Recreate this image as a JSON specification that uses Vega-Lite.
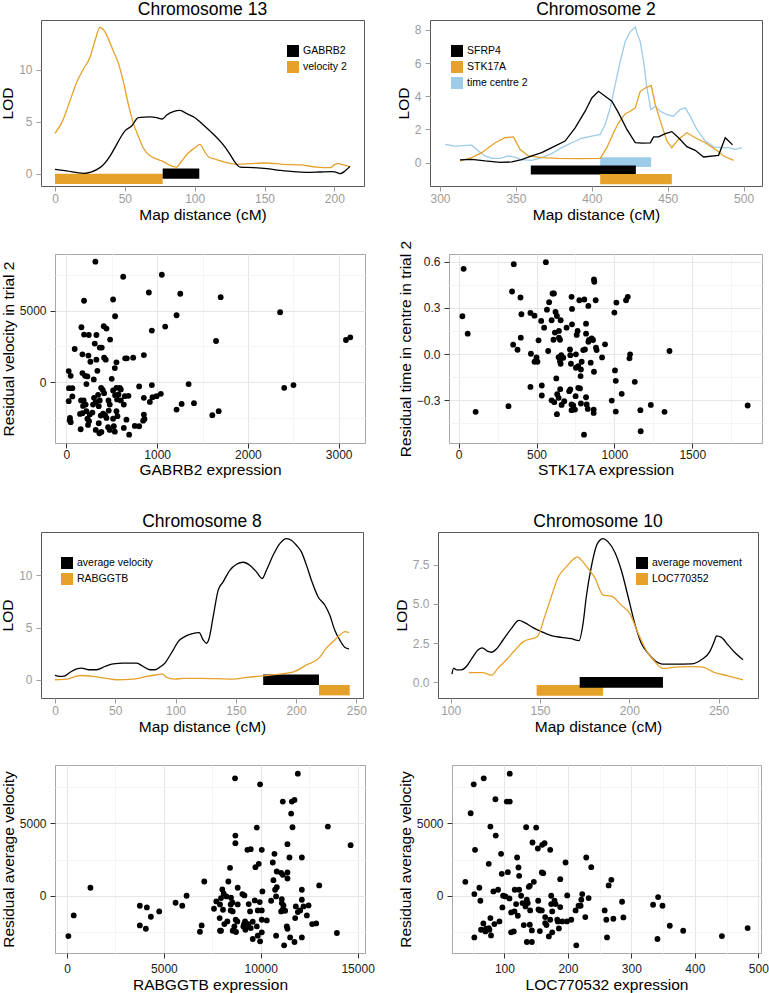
{
"$schema": "https://vega.github.io/schema/vega-lite/v6.json",
"background": "white",
"padding": {"left": 0, "top": 0, "right": 4, "bottom": 0},
"config": {
  "font": "Liberation Sans",
  "title": {"fontSize": 17.5, "fontWeight": "normal", "color": "black", "offset": 2},
  "axis": {"labelFontSize": 12, "titleFontSize": 15.5, "titleFontWeight": "normal", "titleColor": "black", "tickSize": 5, "domain": false, "grid": false},
  "axisX": {"labelPadding": 2.5, "titlePadding": 3},
  "axisY": {"labelPadding": 4, "titlePadding": 3},
  "legend": {"orient": "none", "title": null, "symbolType": "square", "symbolSize": 144, "symbolStrokeWidth": 0, "labelFontSize": 10.5, "labelOffset": 4, "rowPadding": 4, "padding": 0, "labelColor": "black"}
},
"columns": 1,
"spacing": 34,
"align": "none",
"resolve": {"scale": {"fill": "independent", "stroke": "independent"}, "legend": {"fill": "independent", "stroke": "independent"}},
"concat": [
{"columns": 1, "spacing": 15, "align": "none",
 "resolve": {"scale": {"fill": "independent", "stroke": "independent"}, "legend": {"fill": "independent", "stroke": "independent"}},
 "concat": [
 {"hconcat": [
  {"width": 323, "height": 166, "title": {"text": "Chromosome 13"}, "view": {"stroke": "#595959", "strokeWidth": 1},
   "layer": [
    {"data": {"values": [
      {"position": 0, "position2": 77.1, "lod": -1, "lod2": 0, "trait": "velocity 2"},
      {"position": 77.1, "position2": 103.3, "lod": -0.5, "lod2": 0.5, "trait": "GABRB2"}]},
     "mark": {"type": "rect"},
     "encoding": {
      "x": {"field": "position", "type": "quantitative", "title": "Map distance (cM)", "scale": {"domain": [-10, 221.2], "nice": false, "zero": false}, "axis": {"values": [0, 50, 100, 150, 200], "labelColor": "#9C9C9C", "tickColor": "#9C9C9C"}},
      "x2": {"field": "position2"},
      "y": {"field": "lod", "type": "quantitative", "title": "LOD", "scale": {"domain": [-1.19, 14.82], "nice": false, "zero": false}, "axis": {"values": [0, 5, 10], "labelColor": "#9C9C9C", "tickColor": "#9C9C9C"}},
      "y2": {"field": "lod2"},
      "fill": {"field": "trait", "type": "nominal", "scale": {"domain": ["GABRB2", "velocity 2"], "range": ["#000000", "#E6A12A"]}, "legend": {"legendX": 246, "legendY": 25}}
     }},
    {"data": {"values": [
      {"position": 0, "lod": 3.89, "trait": "velocity 2"},{"position": 4.8, "lod": 4.9, "trait": "velocity 2"},{"position": 10.7, "lod": 7.0, "trait": "velocity 2"},{"position": 15.5, "lod": 8.8, "trait": "velocity 2"},{"position": 20.3, "lod": 10.06, "trait": "velocity 2"},{"position": 25, "lod": 11.2, "trait": "velocity 2"},{"position": 28.6, "lod": 12.8, "trait": "velocity 2"},{"position": 32.2, "lod": 14.1, "trait": "velocity 2"},{"position": 34.6, "lod": 13.9, "trait": "velocity 2"},{"position": 38.2, "lod": 13.0, "trait": "velocity 2"},{"position": 41.8, "lod": 11.8, "trait": "velocity 2"},{"position": 45.3, "lod": 10.7, "trait": "velocity 2"},{"position": 48.9, "lod": 8.9, "trait": "velocity 2"},{"position": 52.5, "lod": 6.7, "trait": "velocity 2"},{"position": 56, "lod": 4.9, "trait": "velocity 2"},{"position": 59.7, "lod": 3.6, "trait": "velocity 2"},{"position": 63.2, "lod": 2.5, "trait": "velocity 2"},{"position": 66.8, "lod": 1.86, "trait": "velocity 2"},{"position": 70.4, "lod": 1.54, "trait": "velocity 2"},{"position": 75.2, "lod": 1.29, "trait": "velocity 2"},{"position": 77.6, "lod": 1.16, "trait": "velocity 2"},{"position": 82.3, "lod": 0.8, "trait": "velocity 2"},{"position": 87.1, "lod": 0.64, "trait": "velocity 2"},{"position": 90.7, "lod": 1.22, "trait": "velocity 2"},{"position": 95.5, "lod": 2.0, "trait": "velocity 2"},{"position": 100.2, "lod": 2.5, "trait": "velocity 2"},{"position": 103.8, "lod": 2.83, "trait": "velocity 2"},{"position": 106.2, "lod": 2.35, "trait": "velocity 2"},{"position": 109.8, "lod": 1.64, "trait": "velocity 2"},{"position": 115.8, "lod": 1.35, "trait": "velocity 2"},{"position": 122.9, "lod": 1.06, "trait": "velocity 2"},{"position": 130, "lod": 0.9, "trait": "velocity 2"},{"position": 139.6, "lod": 0.96, "trait": "velocity 2"},{"position": 151.5, "lod": 1.03, "trait": "velocity 2"},{"position": 163.5, "lod": 0.9, "trait": "velocity 2"},{"position": 175.4, "lod": 0.84, "trait": "velocity 2"},{"position": 187.4, "lod": 0.64, "trait": "velocity 2"},{"position": 196.9, "lod": 0.58, "trait": "velocity 2"},{"position": 200.5, "lod": 0.9, "trait": "velocity 2"},{"position": 202.9, "lod": 0.96, "trait": "velocity 2"},{"position": 206.4, "lod": 0.84, "trait": "velocity 2"},{"position": 211.2, "lod": 0.68, "trait": "velocity 2"},
      {"position": 0, "lod": 0.42, "trait": "GABRB2"},{"position": 8.4, "lod": 0.26, "trait": "GABRB2"},{"position": 20.3, "lod": 0.03, "trait": "GABRB2"},{"position": 32.2, "lod": 0.58, "trait": "GABRB2"},{"position": 39.4, "lod": 1.7, "trait": "GABRB2"},{"position": 44.2, "lod": 2.83, "trait": "GABRB2"},{"position": 50.1, "lod": 4.12, "trait": "GABRB2"},{"position": 54.9, "lod": 4.6, "trait": "GABRB2"},{"position": 59.7, "lod": 5.4, "trait": "GABRB2"},{"position": 68, "lod": 5.47, "trait": "GABRB2"},{"position": 72.8, "lod": 5.4, "trait": "GABRB2"},{"position": 76.8, "lod": 5.27, "trait": "GABRB2"},{"position": 80, "lod": 5.66, "trait": "GABRB2"},{"position": 84.7, "lod": 5.98, "trait": "GABRB2"},{"position": 89.5, "lod": 6.1, "trait": "GABRB2"},{"position": 94.3, "lod": 5.79, "trait": "GABRB2"},{"position": 100.2, "lod": 5.4, "trait": "GABRB2"},{"position": 106.2, "lod": 4.7, "trait": "GABRB2"},{"position": 113.4, "lod": 3.8, "trait": "GABRB2"},{"position": 120.5, "lod": 2.77, "trait": "GABRB2"},{"position": 125.3, "lod": 1.86, "trait": "GABRB2"},{"position": 128.9, "lod": 1.09, "trait": "GABRB2"},{"position": 132.5, "lod": 0.64, "trait": "GABRB2"},{"position": 142, "lod": 0.58, "trait": "GABRB2"},{"position": 151.5, "lod": 0.48, "trait": "GABRB2"},{"position": 161, "lod": 0.32, "trait": "GABRB2"},{"position": 170.6, "lod": 0.19, "trait": "GABRB2"},{"position": 180.2, "lod": 0.13, "trait": "GABRB2"},{"position": 189.7, "lod": 0.16, "trait": "GABRB2"},{"position": 198, "lod": 0.19, "trait": "GABRB2"},{"position": 202.9, "lod": 0.06, "trait": "GABRB2"},{"position": 204.1, "lod": 0.0, "trait": "GABRB2"},{"position": 207.6, "lod": 0.26, "trait": "GABRB2"},{"position": 211.2, "lod": 0.7, "trait": "GABRB2"}]},
     "mark": {"type": "line", "interpolate": "monotone", "strokeWidth": 1.3},
     "encoding": {
      "x": {"field": "position", "type": "quantitative", "title": "Map distance (cM)"},
      "y": {"field": "lod", "type": "quantitative", "title": "LOD"},
      "stroke": {"field": "trait", "type": "nominal", "scale": {"domain": ["GABRB2", "velocity 2"], "range": ["#000000", "#E6A12A"]}, "legend": null}
     }}
   ]},
  {"width": 332, "height": 166, "title": {"text": "Chromosome 2"}, "view": {"stroke": "#595959", "strokeWidth": 1},
   "layer": [
    {"data": {"values": [
      {"position": 405.5, "position2": 439.1, "lod": -0.27, "lod2": 0.32, "trait": "time centre 2"},
      {"position": 359.8, "position2": 429, "lod": -0.72, "lod2": -0.18, "trait": "SFRP4"},
      {"position": 405.5, "position2": 452.7, "lod": -1.3, "lod2": -0.68, "trait": "STK17A"}]},
     "mark": {"type": "rect"},
     "encoding": {
      "x": {"field": "position", "type": "quantitative", "title": "Map distance (cM)", "scale": {"domain": [293.4, 512.1], "nice": false, "zero": false}, "axis": {"values": [300, 350, 400, 450, 500], "labelColor": "#9C9C9C", "tickColor": "#9C9C9C"}},
      "x2": {"field": "position2"},
      "y": {"field": "lod", "type": "quantitative", "title": "LOD", "scale": {"domain": [-1.41, 8.6], "nice": false, "zero": false}, "axis": {"values": [0, 2, 4, 6, 8], "labelColor": "#9C9C9C", "tickColor": "#9C9C9C"}},
      "y2": {"field": "lod2"},
      "fill": {"field": "trait", "type": "nominal", "scale": {"domain": ["SFRP4", "STK17A", "time centre 2"], "range": ["#000000", "#E6A12A", "#9DCBEA"]}, "legend": {"legendX": 21, "legendY": 25}}
     }},
    {"data": {"values": [
      {"position": 303.3, "lod": 1.1, "trait": "time centre 2"},{"position": 309.9, "lod": 1.0, "trait": "time centre 2"},{"position": 320.9, "lod": 1.05, "trait": "time centre 2"},{"position": 325.3, "lod": 0.7, "trait": "time centre 2"},{"position": 329.7, "lod": 0.4, "trait": "time centre 2"},{"position": 334.1, "lod": 0.26, "trait": "time centre 2"},{"position": 339.6, "lod": 0.26, "trait": "time centre 2"},{"position": 345, "lod": 0.4, "trait": "time centre 2"},{"position": 348.4, "lod": 0.34, "trait": "time centre 2"},{"position": 353.8, "lod": 0.18, "trait": "time centre 2"},{"position": 360.4, "lod": 0.14, "trait": "time centre 2"},{"position": 367, "lod": 0.3, "trait": "time centre 2"},{"position": 373.6, "lod": 0.54, "trait": "time centre 2"},{"position": 380.2, "lod": 0.9, "trait": "time centre 2"},{"position": 386.8, "lod": 1.2, "trait": "time centre 2"},{"position": 393.4, "lod": 1.47, "trait": "time centre 2"},{"position": 400, "lod": 1.6, "trait": "time centre 2"},{"position": 405.5, "lod": 1.7, "trait": "time centre 2"},{"position": 408.8, "lod": 2.3, "trait": "time centre 2"},{"position": 412.1, "lod": 3.3, "trait": "time centre 2"},{"position": 415.4, "lod": 4.7, "trait": "time centre 2"},{"position": 418.7, "lod": 6.1, "trait": "time centre 2"},{"position": 422, "lod": 7.3, "trait": "time centre 2"},{"position": 425.3, "lod": 7.9, "trait": "time centre 2"},{"position": 428.6, "lod": 8.18, "trait": "time centre 2"},{"position": 429.7, "lod": 7.84, "trait": "time centre 2"},{"position": 431.9, "lod": 7.3, "trait": "time centre 2"},{"position": 434.1, "lod": 6.1, "trait": "time centre 2"},{"position": 436.3, "lod": 4.5, "trait": "time centre 2"},{"position": 438.9, "lod": 3.2, "trait": "time centre 2"},{"position": 441.8, "lod": 3.4, "trait": "time centre 2"},{"position": 445.1, "lod": 3.1, "trait": "time centre 2"},{"position": 449.5, "lod": 2.9, "trait": "time centre 2"},{"position": 453.8, "lod": 2.8, "trait": "time centre 2"},{"position": 458.2, "lod": 3.2, "trait": "time centre 2"},{"position": 461.5, "lod": 3.3, "trait": "time centre 2"},{"position": 464.8, "lod": 2.8, "trait": "time centre 2"},{"position": 469.2, "lod": 2.0, "trait": "time centre 2"},{"position": 474.7, "lod": 1.3, "trait": "time centre 2"},{"position": 480.2, "lod": 0.95, "trait": "time centre 2"},{"position": 485.7, "lod": 0.9, "trait": "time centre 2"},{"position": 490.1, "lod": 0.9, "trait": "time centre 2"},{"position": 494.5, "lod": 0.8, "trait": "time centre 2"},{"position": 498.9, "lod": 0.9, "trait": "time centre 2"},
      {"position": 313.2, "lod": 0.1, "trait": "STK17A"},{"position": 320.9, "lod": 0.3, "trait": "STK17A"},{"position": 327.5, "lod": 0.6, "trait": "STK17A"},{"position": 336.3, "lod": 1.2, "trait": "STK17A"},{"position": 342.9, "lod": 1.5, "trait": "STK17A"},{"position": 348.4, "lod": 1.55, "trait": "STK17A"},{"position": 352.7, "lod": 0.8, "trait": "STK17A"},{"position": 358.2, "lod": 0.4, "trait": "STK17A"},{"position": 367, "lod": 0.3, "trait": "STK17A"},{"position": 378, "lod": 0.26, "trait": "STK17A"},{"position": 391.2, "lod": 0.24, "trait": "STK17A"},{"position": 405.5, "lod": 0.26, "trait": "STK17A"},{"position": 409.9, "lod": 0.9, "trait": "STK17A"},{"position": 414.3, "lod": 1.8, "trait": "STK17A"},{"position": 417.6, "lod": 2.4, "trait": "STK17A"},{"position": 422, "lod": 2.95, "trait": "STK17A"},{"position": 425.3, "lod": 3.1, "trait": "STK17A"},{"position": 428.6, "lod": 3.3, "trait": "STK17A"},{"position": 431.9, "lod": 4.3, "trait": "STK17A"},{"position": 435.2, "lod": 4.5, "trait": "STK17A"},{"position": 439.1, "lod": 4.65, "trait": "STK17A"},{"position": 441.8, "lod": 3.5, "trait": "STK17A"},{"position": 446.2, "lod": 2.2, "trait": "STK17A"},{"position": 449.5, "lod": 1.3, "trait": "STK17A"},{"position": 452.7, "lod": 0.9, "trait": "STK17A"},{"position": 457.1, "lod": 1.4, "trait": "STK17A"},{"position": 462.6, "lod": 1.8, "trait": "STK17A"},{"position": 468.1, "lod": 1.5, "trait": "STK17A"},{"position": 474.7, "lod": 1.2, "trait": "STK17A"},{"position": 481.3, "lod": 0.8, "trait": "STK17A"},{"position": 486.8, "lod": 0.4, "trait": "STK17A"},{"position": 493.4, "lod": 0.14, "trait": "STK17A"},
      {"position": 313.2, "lod": 0.16, "trait": "SFRP4"},{"position": 320.9, "lod": 0.2, "trait": "SFRP4"},{"position": 329.7, "lod": 0.1, "trait": "SFRP4"},{"position": 339.6, "lod": 0.02, "trait": "SFRP4"},{"position": 347.3, "lod": 0.04, "trait": "SFRP4"},{"position": 353.8, "lod": 0.18, "trait": "SFRP4"},{"position": 360.4, "lod": 0.4, "trait": "SFRP4"},{"position": 367, "lod": 0.6, "trait": "SFRP4"},{"position": 373.6, "lod": 0.9, "trait": "SFRP4"},{"position": 382.4, "lod": 1.3, "trait": "SFRP4"},{"position": 389, "lod": 2.1, "trait": "SFRP4"},{"position": 395.6, "lod": 3.1, "trait": "SFRP4"},{"position": 400, "lod": 3.9, "trait": "SFRP4"},{"position": 404.4, "lod": 4.3, "trait": "SFRP4"},{"position": 408.8, "lod": 4.0, "trait": "SFRP4"},{"position": 413.2, "lod": 3.7, "trait": "SFRP4"},{"position": 417.6, "lod": 3.0, "trait": "SFRP4"},{"position": 423.1, "lod": 2.0, "trait": "SFRP4"},{"position": 428.6, "lod": 1.2, "trait": "SFRP4"},{"position": 433, "lod": 1.17, "trait": "SFRP4"},{"position": 438.5, "lod": 1.19, "trait": "SFRP4"},{"position": 440.7, "lod": 1.55, "trait": "SFRP4"},{"position": 444, "lod": 1.55, "trait": "SFRP4"},{"position": 448.4, "lod": 1.75, "trait": "SFRP4"},{"position": 452.7, "lod": 1.87, "trait": "SFRP4"},{"position": 457.1, "lod": 1.5, "trait": "SFRP4"},{"position": 462.6, "lod": 0.96, "trait": "SFRP4"},{"position": 468.1, "lod": 0.74, "trait": "SFRP4"},{"position": 473.6, "lod": 0.34, "trait": "SFRP4"},{"position": 483.5, "lod": 0.44, "trait": "SFRP4"},{"position": 487.9, "lod": 1.5, "trait": "SFRP4"},{"position": 490.1, "lod": 1.3, "trait": "SFRP4"},{"position": 492.7, "lod": 1.07, "trait": "SFRP4"}]},
     "mark": {"type": "line", "strokeWidth": 1.3},
     "encoding": {
      "x": {"field": "position", "type": "quantitative", "title": "Map distance (cM)"},
      "y": {"field": "lod", "type": "quantitative", "title": "LOD"},
      "stroke": {"field": "trait", "type": "nominal", "scale": {"domain": ["SFRP4", "STK17A", "time centre 2"], "range": ["#000000", "#E6A12A", "#9DCBEA"]}, "legend": null}
     }}
   ]}
 ], "spacing": 30,
 "resolve": {"scale": {"fill": "independent", "stroke": "independent"}, "legend": {"fill": "independent", "stroke": "independent"}}},
 {"hconcat": [
  {"hconcat": [
  {"width": 1, "height": 1, "data": {"values": []}, "mark": "point", "view": {"stroke": null}},
  {"width": 310, "height": 189, "view": {"stroke": "#A8A8A8", "strokeWidth": 1},
   "data": {"values": [
    {"expr":320,"resid":8410},{"expr":626,"resid":7360},{"expr":1052,"resid":7500},{"expr":909,"resid":6260},{"expr":1255,"resid":6170},{"expr":1700,"resid":5930},{"expr":195,"resid":5680},{"expr":515,"resid":5770},{"expr":2355,"resid":4880},{"expr":537,"resid":4600},{"expr":1214,"resid":4670},{"expr":166,"resid":3830},{"expr":412,"resid":3900},{"expr":442,"resid":3740},{"expr":942,"resid":3600},{"expr":1089,"resid":3880},{"expr":195,"resid":3320},{"expr":247,"resid":3290},{"expr":331,"resid":3290},{"expr":482,"resid":2970},{"expr":1649,"resid":2870},{"expr":3080,"resid":2940},{"expr":3128,"resid":3130},{"expr":313,"resid":2690},{"expr":368,"resid":2410},{"expr":390,"resid":2410},{"expr":92,"resid":2310},{"expr":177,"resid":1940},{"expr":243,"resid":1850},{"expr":331,"resid":1570},{"expr":265,"resid":1420},{"expr":416,"resid":1710},{"expr":434,"resid":1570},{"expr":648,"resid":1660},{"expr":666,"resid":1660},{"expr":736,"resid":1710},{"expr":854,"resid":1890},{"expr":552,"resid":1380},{"expr":534,"resid":980},{"expr":342,"resid":790},{"expr":26,"resid":770},{"expr":48,"resid":440},{"expr":177,"resid":630},{"expr":206,"resid":440},{"expr":232,"resid":400},{"expr":302,"resid":190},{"expr":500,"resid":230},{"expr":221,"resid":-140},{"expr":802,"resid":-300},{"expr":942,"resid":-210},{"expr":1347,"resid":-140},{"expr":2502,"resid":-210},{"expr":2400,"resid":-400},{"expr":29,"resid":-420},{"expr":66,"resid":-420},{"expr":383,"resid":-400},{"expr":401,"resid":-540},{"expr":589,"resid":-400},{"expr":515,"resid":-580},{"expr":66,"resid":-1000},{"expr":26,"resid":-1330},{"expr":162,"resid":-1280},{"expr":191,"resid":-1280},{"expr":213,"resid":-1570},{"expr":184,"resid":-1660},{"expr":305,"resid":-1100},{"expr":324,"resid":-1400},{"expr":357,"resid":-1680},{"expr":350,"resid":-890},{"expr":416,"resid":-770},{"expr":537,"resid":-910},{"expr":559,"resid":-1210},{"expr":574,"resid":-860},{"expr":684,"resid":-960},{"expr":854,"resid":-1100},{"expr":949,"resid":-1050},{"expr":920,"resid":-1380},{"expr":1041,"resid":-820},{"expr":994,"resid":-980},{"expr":854,"resid":-2270},{"expr":861,"resid":-2570},{"expr":802,"resid":-3080},{"expr":1214,"resid":-1920},{"expr":1270,"resid":-1520},{"expr":1406,"resid":-1470},{"expr":1608,"resid":-2310},{"expr":1678,"resid":-2030},{"expr":221,"resid":-2030},{"expr":177,"resid":-2170},{"expr":151,"resid":-2220},{"expr":40,"resid":-2500},{"expr":37,"resid":-2660},{"expr":48,"resid":-2800},{"expr":232,"resid":-2550},{"expr":250,"resid":-2730},{"expr":239,"resid":-2990},{"expr":287,"resid":-2130},{"expr":405,"resid":-2200},{"expr":379,"resid":-2340},{"expr":427,"resid":-2310},{"expr":357,"resid":-2870},{"expr":324,"resid":-3340},{"expr":386,"resid":-3480},{"expr":364,"resid":-3570},{"expr":158,"resid":-3290},{"expr":442,"resid":-2500},{"expr":467,"resid":-1990},{"expr":478,"resid":-3340},{"expr":534,"resid":-3460},{"expr":523,"resid":-3080},{"expr":460,"resid":-3150},{"expr":552,"resid":-2030},{"expr":563,"resid":-2380},{"expr":515,"resid":-2550},{"expr":633,"resid":-3200},{"expr":692,"resid":-3670},{"expr":754,"resid":-3060},{"expr":662,"resid":-2620},{"expr":846,"resid":-2690},{"expr":644,"resid":-980},{"expr":600,"resid":-1280},{"expr":294,"resid":-1570},{"expr":464,"resid":-1280},{"expr":478,"resid":-1570},{"expr":633,"resid":-1570},{"expr":552,"resid":-400},{"expr":368,"resid":-1280},{"expr":258,"resid":-2270},{"expr":600,"resid":-510}]},
   "mark": {"type": "circle", "size": 34, "color": "black", "opacity": 1},
   "encoding": {
    "x": {"field": "expr", "type": "quantitative", "title": "GABRB2 expression", "scale": {"domain": [-125, 3290], "nice": false, "zero": false},
      "axis": {"values": [0, 500, 1000, 1500, 2000, 2500, 3000], "format": "d", "labelExpr": "datum.value % 1000 == 0 ? datum.label : ''", "grid": true, "gridColor": {"condition": {"test": "datum.value % 1000 != 0", "value": "#F4F4F4"}, "value": "#E6E6E6"}, "tickOpacity": {"condition": {"test": "datum.value % 1000 != 0", "value": 0}, "value": 1}, "labelColor": "#1A1A1A", "tickColor": "#333333", "labelPadding": 1, "titlePadding": 2}},
    "y": {"field": "resid", "type": "quantitative", "title": "Residual velocity in trial 2", "scale": {"domain": [-4252, 8947], "nice": false, "zero": false},
      "axis": {"values": [-2500, 0, 2500, 5000, 7500], "format": "d", "labelExpr": "datum.value % 5000 == 0 ? datum.label : ''", "grid": true, "gridColor": {"condition": {"test": "datum.value % 5000 != 0", "value": "#F4F4F4"}, "value": "#E6E6E6"}, "tickOpacity": {"condition": {"test": "datum.value % 5000 != 0", "value": 0}, "value": 1}, "labelColor": "#1A1A1A", "tickColor": "#333333"}}
   }}], "spacing": 13, "bounds": "flush"},
  {"width": 313, "height": 189, "view": {"stroke": "#A8A8A8", "strokeWidth": 1},
   "data": {"values": [
    {"expr":32,"resid":0.553},{"expr":354,"resid":0.583},{"expr":560,"resid":0.596},{"expr":24,"resid":0.245},{"expr":58,"resid":0.132},{"expr":109,"resid":-0.375},{"expr":320,"resid":-0.338},{"expr":343,"resid":0.406},{"expr":397,"resid":0.367},{"expr":403,"resid":0.258},{"expr":399,"resid":0.106},{"expr":350,"resid":0.061},{"expr":378,"resid":0.028},{"expr":461,"resid":-0.213},{"expr":461,"resid":0.267},{"expr":487,"resid":0.249},{"expr":464,"resid":0.002},{"expr":487,"resid":-0.05},{"expr":500,"resid":-0.022},{"expr":506,"resid":-0.05},{"expr":513,"resid":0.089},{"expr":530,"resid":0.215},{"expr":549,"resid":0.171},{"expr":567,"resid":0.288},{"expr":575,"resid":0.02},{"expr":534,"resid":-0.204},{"expr":534,"resid":-0.269},{"expr":581,"resid":0.336},{"expr":597,"resid":0.219},{"expr":603,"resid":0.393},{"expr":612,"resid":0.393},{"expr":622,"resid":0.273},{"expr":631,"resid":0.247},{"expr":618,"resid":0.139},{"expr":609,"resid":0.093},{"expr":644,"resid":0.15},{"expr":651,"resid":0.093},{"expr":655,"resid":0.219},{"expr":644,"resid":0.106},{"expr":627,"resid":-0.158},{"expr":633,"resid":-0.26},{"expr":642,"resid":-0.284},{"expr":631,"resid":-0.39},{"expr":597,"resid":-0.3},{"expr":614,"resid":-0.312},{"expr":652,"resid":-0.228},{"expr":642,"resid":-0.02},{"expr":651,"resid":-0.046},{"expr":655,"resid":-0.063},{"expr":659,"resid":-0.007},{"expr":672,"resid":-0.024},{"expr":661,"resid":-0.33},{"expr":678,"resid":-0.306},{"expr":693,"resid":0.171},{"expr":717,"resid":-0.007},{"expr":725,"resid":0.371},{"expr":728,"resid":0.293},{"expr":728,"resid":0.193},{"expr":715,"resid":0.03},{"expr":710,"resid":-0.241},{"expr":717,"resid":-0.23},{"expr":721,"resid":-0.063},{"expr":725,"resid":-0.327},{"expr":725,"resid":-0.364},{"expr":736,"resid":-0.334},{"expr":747,"resid":-0.36},{"expr":751,"resid":-0.273},{"expr":753,"resid":-0.002},{"expr":753,"resid":-0.089},{"expr":764,"resid":0.15},{"expr":758,"resid":0.124},{"expr":768,"resid":-0.219},{"expr":779,"resid":-0.223},{"expr":768,"resid":-0.078},{"expr":783,"resid":-0.143},{"expr":785,"resid":-0.1},{"expr":790,"resid":-0.05},{"expr":785,"resid":-0.321},{"expr":775,"resid":0.349},{"expr":807,"resid":0.354},{"expr":800,"resid":0.026},{"expr":811,"resid":0.03},{"expr":818,"resid":0.197},{"expr":818,"resid":0.132},{"expr":818,"resid":-0.28},{"expr":822,"resid":-0.327},{"expr":829,"resid":-0.356},{"expr":833,"resid":0.312},{"expr":833,"resid":0.08},{"expr":837,"resid":0.091},{"expr":848,"resid":-0.056},{"expr":854,"resid":0.102},{"expr":863,"resid":0.091},{"expr":869,"resid":-0.115},{"expr":867,"resid":-0.36},{"expr":867,"resid":-0.382},{"expr":869,"resid":0.484},{"expr":871,"resid":0.469},{"expr":880,"resid":0.349},{"expr":882,"resid":0.041},{"expr":886,"resid":0.026},{"expr":921,"resid":-0.022},{"expr":940,"resid":0.063},{"expr":805,"resid":-0.523},{"expr":983,"resid":-0.302},{"expr":1000,"resid":0.269},{"expr":1004,"resid":-0.106},{"expr":1009,"resid":-0.174},{"expr":1009,"resid":-0.373},{"expr":1013,"resid":0.334},{"expr":1047,"resid":-0.258},{"expr":1075,"resid":0.349},{"expr":1086,"resid":0.371},{"expr":1101,"resid":-0.002},{"expr":1097,"resid":-0.028},{"expr":1131,"resid":-0.18},{"expr":1167,"resid":-0.364},{"expr":1169,"resid":-0.501},{"expr":1234,"resid":-0.33},{"expr":1322,"resid":-0.375},{"expr":1354,"resid":0.02},{"expr":1856,"resid":-0.334}]},
   "mark": {"type": "circle", "size": 34, "color": "black", "opacity": 1},
   "encoding": {
    "x": {"field": "expr", "type": "quantitative", "title": "STK17A expression", "scale": {"domain": [-62, 1948], "nice": false, "zero": false},
      "axis": {"values": [0, 250, 500, 750, 1000, 1250, 1500, 1750], "format": "d", "labelExpr": "datum.value % 500 == 0 ? datum.label : ''", "grid": true, "gridColor": {"condition": {"test": "datum.value % 500 != 0", "value": "#F4F4F4"}, "value": "#E6E6E6"}, "tickOpacity": {"condition": {"test": "datum.value % 500 != 0", "value": 0}, "value": 1}, "labelColor": "#1A1A1A", "tickColor": "#333333", "labelPadding": 1, "titlePadding": 2}},
    "y": {"field": "resid", "type": "quantitative", "title": "Residual time in centre in trial 2", "scale": {"domain": [-0.577, 0.649], "nice": false, "zero": false},
      "axis": {"values": [-0.45, -0.3, -0.15, 0, 0.15, 0.3, 0.45, 0.6], "format": ".1f", "labelExpr": "round(datum.value*100) % 30 == 0 ? datum.label : ''", "grid": true, "gridColor": {"condition": {"test": "round(datum.value*100) % 30 != 0", "value": "#F4F4F4"}, "value": "#E6E6E6"}, "tickOpacity": {"condition": {"test": "round(datum.value*100) % 30 != 0", "value": 0}, "value": 1}, "labelColor": "#1A1A1A", "tickColor": "#333333"}}
   }}
 ], "spacing": 31}
]},
{"columns": 1, "spacing": 28, "align": "none",
 "resolve": {"scale": {"fill": "independent", "stroke": "independent"}, "legend": {"fill": "independent", "stroke": "independent"}},
 "concat": [
 {"hconcat": [
  {"width": 322, "height": 166, "title": {"text": "Chromosome 8"}, "view": {"stroke": "#595959", "strokeWidth": 1},
   "layer": [
    {"data": {"values": [
      {"position": 172.7, "position2": 219, "lod": -0.5, "lod2": 0.5, "trait": "average velocity"},
      {"position": 219, "position2": 244.5, "lod": -1.5, "lod2": -0.5, "trait": "RABGGTB"}]},
     "mark": {"type": "rect"},
     "encoding": {
      "x": {"field": "position", "type": "quantitative", "title": "Map distance (cM)", "scale": {"domain": [-11.6, 255.5], "nice": false, "zero": false}, "axis": {"values": [0, 50, 100, 150, 200, 250], "labelColor": "#9C9C9C", "tickColor": "#9C9C9C"}},
      "x2": {"field": "position2"},
      "y": {"field": "lod", "type": "quantitative", "title": "LOD", "scale": {"domain": [-1.75, 14.17], "nice": false, "zero": false}, "axis": {"values": [0, 5, 10], "labelColor": "#9C9C9C", "tickColor": "#9C9C9C"}},
      "y2": {"field": "lod2"},
      "fill": {"field": "trait", "type": "nominal", "scale": {"domain": ["average velocity", "RABGGTB"], "range": ["#000000", "#E6A12A"]}, "legend": {"legendX": 20, "legendY": 25}}
     }},
    {"data": {"values": [
      {"position": 0, "lod": 0.41, "trait": "average velocity"},{"position": 4.1, "lod": 0.32, "trait": "average velocity"},{"position": 8.3, "lod": 0.38, "trait": "average velocity"},{"position": 12.4, "lod": 0.7, "trait": "average velocity"},{"position": 18, "lod": 1.05, "trait": "average velocity"},{"position": 22.1, "lod": 1.11, "trait": "average velocity"},{"position": 27.6, "lod": 0.96, "trait": "average velocity"},{"position": 34.5, "lod": 0.96, "trait": "average velocity"},{"position": 41.4, "lod": 1.27, "trait": "average velocity"},{"position": 48.3, "lod": 1.53, "trait": "average velocity"},{"position": 56.6, "lod": 1.59, "trait": "average velocity"},{"position": 67.7, "lod": 1.59, "trait": "average velocity"},{"position": 73.2, "lod": 1.27, "trait": "average velocity"},{"position": 78.7, "lod": 0.96, "trait": "average velocity"},{"position": 82.9, "lod": 0.96, "trait": "average velocity"},{"position": 87, "lod": 1.21, "trait": "average velocity"},{"position": 91.2, "lod": 1.59, "trait": "average velocity"},{"position": 94.8, "lod": 2.23, "trait": "average velocity"},{"position": 98.1, "lod": 2.87, "trait": "average velocity"},{"position": 102.2, "lod": 3.66, "trait": "average velocity"},{"position": 107.7, "lod": 4.14, "trait": "average velocity"},{"position": 113.3, "lod": 4.39, "trait": "average velocity"},{"position": 119.6, "lod": 4.52, "trait": "average velocity"},{"position": 122.9, "lod": 3.82, "trait": "average velocity"},{"position": 125.7, "lod": 3.5, "trait": "average velocity"},{"position": 127.9, "lod": 3.98, "trait": "average velocity"},{"position": 131.2, "lod": 6.05, "trait": "average velocity"},{"position": 135.4, "lod": 8.6, "trait": "average velocity"},{"position": 139.5, "lod": 9.39, "trait": "average velocity"},{"position": 145, "lod": 10.5, "trait": "average velocity"},{"position": 150.6, "lod": 11.08, "trait": "average velocity"},{"position": 156.1, "lod": 11.27, "trait": "average velocity"},{"position": 161.6, "lod": 10.99, "trait": "average velocity"},{"position": 167.1, "lod": 10.35, "trait": "average velocity"},{"position": 171.8, "lod": 9.71, "trait": "average velocity"},{"position": 175.4, "lod": 10.5, "trait": "average velocity"},{"position": 180.9, "lod": 11.94, "trait": "average velocity"},{"position": 186.5, "lod": 13.06, "trait": "average velocity"},{"position": 192, "lod": 13.54, "trait": "average velocity"},{"position": 196.1, "lod": 13.38, "trait": "average velocity"},{"position": 200.3, "lod": 12.9, "trait": "average velocity"},{"position": 204.4, "lod": 12.26, "trait": "average velocity"},{"position": 208.6, "lod": 10.99, "trait": "average velocity"},{"position": 212.7, "lod": 9.55, "trait": "average velocity"},{"position": 218.2, "lod": 7.96, "trait": "average velocity"},{"position": 223.8, "lod": 7.17, "trait": "average velocity"},{"position": 227.9, "lod": 6.21, "trait": "average velocity"},{"position": 232, "lod": 4.78, "trait": "average velocity"},{"position": 236.2, "lod": 3.82, "trait": "average velocity"},{"position": 240.3, "lod": 3.12, "trait": "average velocity"},{"position": 243.9, "lod": 2.96, "trait": "average velocity"},
      {"position": 0, "lod": 0, "trait": "RABGGTB"},{"position": 9.7, "lod": 0.06, "trait": "RABGGTB"},{"position": 20.7, "lod": 0.41, "trait": "RABGGTB"},{"position": 31.8, "lod": 0.32, "trait": "RABGGTB"},{"position": 42.8, "lod": 0.13, "trait": "RABGGTB"},{"position": 51.1, "lod": 0, "trait": "RABGGTB"},{"position": 64.9, "lod": 0.06, "trait": "RABGGTB"},{"position": 76, "lod": 0.32, "trait": "RABGGTB"},{"position": 84.3, "lod": 0.48, "trait": "RABGGTB"},{"position": 89, "lod": 0.57, "trait": "RABGGTB"},{"position": 92.5, "lod": 0.22, "trait": "RABGGTB"},{"position": 99.4, "lod": 0.06, "trait": "RABGGTB"},{"position": 106.4, "lod": 0.13, "trait": "RABGGTB"},{"position": 120.2, "lod": 0.13, "trait": "RABGGTB"},{"position": 134, "lod": 0.1, "trait": "RABGGTB"},{"position": 147.8, "lod": 0.06, "trait": "RABGGTB"},{"position": 158.8, "lod": 0.22, "trait": "RABGGTB"},{"position": 172.7, "lod": 0.38, "trait": "RABGGTB"},{"position": 186.5, "lod": 0.54, "trait": "RABGGTB"},{"position": 198.9, "lod": 0.8, "trait": "RABGGTB"},{"position": 208.6, "lod": 1.43, "trait": "RABGGTB"},{"position": 219, "lod": 2.07, "trait": "RABGGTB"},{"position": 225.1, "lod": 3.03, "trait": "RABGGTB"},{"position": 230.7, "lod": 3.66, "trait": "RABGGTB"},{"position": 236.2, "lod": 4.27, "trait": "RABGGTB"},{"position": 240.3, "lod": 4.62, "trait": "RABGGTB"},{"position": 243.9, "lod": 4.52, "trait": "RABGGTB"}]},
     "mark": {"type": "line", "interpolate": "monotone", "strokeWidth": 1.3},
     "encoding": {
      "x": {"field": "position", "type": "quantitative", "title": "Map distance (cM)"},
      "y": {"field": "lod", "type": "quantitative", "title": "LOD"},
      "stroke": {"field": "trait", "type": "nominal", "scale": {"domain": ["average velocity", "RABGGTB"], "range": ["#000000", "#E6A12A"]}, "legend": null}
     }}
   ]},
  {"width": 320, "height": 166, "title": {"text": "Chromosome 10"}, "view": {"stroke": "#595959", "strokeWidth": 1},
   "layer": [
    {"data": {"values": [
      {"position": 148.1, "position2": 185.3, "lod": -0.85, "lod2": -0.17, "trait": "LOC770352"},
      {"position": 172.2, "position2": 218.8, "lod": -0.34, "lod2": 0.34, "trait": "average movement"}]},
     "mark": {"type": "rect"},
     "encoding": {
      "x": {"field": "position", "type": "quantitative", "title": "Map distance (cM)", "scale": {"domain": [92.9, 272], "nice": false, "zero": false}, "axis": {"values": [100, 150, 200, 250], "labelColor": "#9C9C9C", "tickColor": "#9C9C9C"}},
      "x2": {"field": "position2"},
      "y": {"field": "lod", "type": "quantitative", "title": "LOD", "scale": {"domain": [-0.99, 9.57], "nice": false, "zero": false}, "axis": {"values": [0, 2.5, 5, 7.5], "format": ".1f", "labelColor": "#9C9C9C", "tickColor": "#9C9C9C"}},
      "y2": {"field": "lod2"},
      "fill": {"field": "trait", "type": "nominal", "scale": {"domain": ["average movement", "LOC770352"], "range": ["#000000", "#E6A12A"]}, "legend": {"legendX": 198, "legendY": 25}}
     }},
    {"data": {"values": [
      {"position": 100.7, "lod": 0.53, "trait": "average movement"},{"position": 101.7, "lod": 0.91, "trait": "average movement"},{"position": 103.2, "lod": 0.8, "trait": "average movement"},{"position": 106, "lod": 0.8, "trait": "average movement"},{"position": 108.8, "lod": 1.01, "trait": "average movement"},{"position": 111.6, "lod": 1.48, "trait": "average movement"},{"position": 115.3, "lod": 2.07, "trait": "average movement"},{"position": 117.7, "lod": 2.2, "trait": "average movement"},{"position": 120.5, "lod": 1.99, "trait": "average movement"},{"position": 122.8, "lod": 1.92, "trait": "average movement"},{"position": 125.6, "lod": 2.13, "trait": "average movement"},{"position": 129.3, "lod": 2.7, "trait": "average movement"},{"position": 134, "lod": 3.44, "trait": "average movement"},{"position": 138.2, "lod": 3.95, "trait": "average movement"},{"position": 141.4, "lod": 3.8, "trait": "average movement"},{"position": 146.1, "lod": 3.49, "trait": "average movement"},{"position": 150.7, "lod": 3.23, "trait": "average movement"},{"position": 156.3, "lod": 2.98, "trait": "average movement"},{"position": 161.9, "lod": 2.87, "trait": "average movement"},{"position": 167.5, "lod": 2.79, "trait": "average movement"},{"position": 171.8, "lod": 2.66, "trait": "average movement"},{"position": 174.1, "lod": 3.76, "trait": "average movement"},{"position": 175.9, "lod": 5.45, "trait": "average movement"},{"position": 178.7, "lod": 7.35, "trait": "average movement"},{"position": 182.1, "lod": 8.83, "trait": "average movement"},{"position": 185.3, "lod": 9.15, "trait": "average movement"},{"position": 188.1, "lod": 8.94, "trait": "average movement"},{"position": 191.8, "lod": 8.3, "trait": "average movement"},{"position": 195.5, "lod": 7.14, "trait": "average movement"},{"position": 199.3, "lod": 5.45, "trait": "average movement"},{"position": 203, "lod": 3.76, "trait": "average movement"},{"position": 206.7, "lod": 2.49, "trait": "average movement"},{"position": 210.4, "lod": 1.86, "trait": "average movement"},{"position": 214.2, "lod": 1.39, "trait": "average movement"},{"position": 218.8, "lod": 1.16, "trait": "average movement"},{"position": 225.4, "lod": 1.16, "trait": "average movement"},{"position": 234.7, "lod": 1.18, "trait": "average movement"},{"position": 240.3, "lod": 1.44, "trait": "average movement"},{"position": 245, "lod": 1.96, "trait": "average movement"},{"position": 247.8, "lod": 2.7, "trait": "average movement"},{"position": 248.7, "lod": 2.96, "trait": "average movement"},{"position": 251.5, "lod": 2.87, "trait": "average movement"},{"position": 255.2, "lod": 2.39, "trait": "average movement"},{"position": 259, "lod": 1.9, "trait": "average movement"},{"position": 263.6, "lod": 1.44, "trait": "average movement"},
      {"position": 110.1, "lod": 0.63, "trait": "LOC770352"},{"position": 117.7, "lod": 0.63, "trait": "LOC770352"},{"position": 122.8, "lod": 0.46, "trait": "LOC770352"},{"position": 126.5, "lod": 0.91, "trait": "LOC770352"},{"position": 131.2, "lod": 1.44, "trait": "LOC770352"},{"position": 135.8, "lod": 2.03, "trait": "LOC770352"},{"position": 140.5, "lod": 2.58, "trait": "LOC770352"},{"position": 148.5, "lod": 2.92, "trait": "LOC770352"},{"position": 152.6, "lod": 4.18, "trait": "LOC770352"},{"position": 156.3, "lod": 5.45, "trait": "LOC770352"},{"position": 160.1, "lod": 6.68, "trait": "LOC770352"},{"position": 164.7, "lod": 7.35, "trait": "LOC770352"},{"position": 168.5, "lod": 7.82, "trait": "LOC770352"},{"position": 170.9, "lod": 7.99, "trait": "LOC770352"},{"position": 173.1, "lod": 7.78, "trait": "LOC770352"},{"position": 176.9, "lod": 7.25, "trait": "LOC770352"},{"position": 180.6, "lod": 6.68, "trait": "LOC770352"},{"position": 185.3, "lod": 5.56, "trait": "LOC770352"},{"position": 189.9, "lod": 5.49, "trait": "LOC770352"},{"position": 195.5, "lod": 4.92, "trait": "LOC770352"},{"position": 200.2, "lod": 4.39, "trait": "LOC770352"},{"position": 204.9, "lod": 3.13, "trait": "LOC770352"},{"position": 210.4, "lod": 1.86, "trait": "LOC770352"},{"position": 214.2, "lod": 1.33, "trait": "LOC770352"},{"position": 218.8, "lod": 0.89, "trait": "LOC770352"},{"position": 225.4, "lod": 0.97, "trait": "LOC770352"},{"position": 232.8, "lod": 1.01, "trait": "LOC770352"},{"position": 240.3, "lod": 0.99, "trait": "LOC770352"},{"position": 247.8, "lod": 0.63, "trait": "LOC770352"},{"position": 255.2, "lod": 0.42, "trait": "LOC770352"},{"position": 263.6, "lod": 0.17, "trait": "LOC770352"}]},
     "mark": {"type": "line", "interpolate": "monotone", "strokeWidth": 1.3},
     "encoding": {
      "x": {"field": "position", "type": "quantitative", "title": "Map distance (cM)"},
      "y": {"field": "lod", "type": "quantitative", "title": "LOD"},
      "stroke": {"field": "trait", "type": "nominal", "scale": {"domain": ["average movement", "LOC770352"], "range": ["#000000", "#E6A12A"]}, "legend": null}
     }}
   ]}
 ], "spacing": 26,
 "resolve": {"scale": {"fill": "independent", "stroke": "independent"}, "legend": {"fill": "independent", "stroke": "independent"}}},
 {"hconcat": [
  {"hconcat": [
  {"width": 1, "height": 1, "data": {"values": []}, "mark": "point", "view": {"stroke": null}},
  {"width": 310, "height": 188, "view": {"stroke": "#A8A8A8", "strokeWidth": 1},
   "data": {"values": [
    {"expr":8672,"resid":8098},{"expr":9965,"resid":7685},{"expr":11913,"resid":8419},{"expr":11137,"resid":6492},{"expr":11603,"resid":6492},{"expr":11741,"resid":6607},{"expr":11568,"resid":5666},{"expr":9793,"resid":4703},{"expr":11637,"resid":4726},{"expr":13464,"resid":4771},{"expr":8689,"resid":4152},{"expr":8689,"resid":3624},{"expr":9310,"resid":3166},{"expr":9482,"resid":3212},{"expr":10051,"resid":3166},{"expr":14637,"resid":3487},{"expr":10706,"resid":2890},{"expr":11378,"resid":3556},{"expr":11482,"resid":2638},{"expr":12120,"resid":2638},{"expr":10620,"resid":2294},{"expr":9896,"resid":2202},{"expr":9724,"resid":1973},{"expr":8413,"resid":1927},{"expr":10826,"resid":1675},{"expr":11051,"resid":1583},{"expr":11137,"resid":1445},{"expr":11378,"resid":1606},{"expr":11378,"resid":1193},{"expr":10654,"resid":1078},{"expr":7085,"resid":986},{"expr":8327,"resid":986},{"expr":13016,"resid":711},{"expr":10826,"resid":596},{"expr":10740,"resid":413},{"expr":1207,"resid":551},{"expr":8810,"resid":551},{"expr":8017,"resid":436},{"expr":10085,"resid":298},{"expr":12120,"resid":413},{"expr":8086,"resid":138},{"expr":8224,"resid":-46},{"expr":6172,"resid":0},{"expr":9051,"resid":115},{"expr":9155,"resid":23},{"expr":10792,"resid":-46},{"expr":12120,"resid":-275},{"expr":11085,"resid":-229},{"expr":5603,"resid":-482},{"expr":5948,"resid":-688},{"expr":3758,"resid":-688},{"expr":4120,"resid":-803},{"expr":7947,"resid":-161},{"expr":8465,"resid":-138},{"expr":7706,"resid":-390},{"expr":7895,"resid":-597},{"expr":8448,"resid":-597},{"expr":8534,"resid":-459},{"expr":8810,"resid":-597},{"expr":9379,"resid":-574},{"expr":9689,"resid":-321},{"expr":9948,"resid":-436},{"expr":10534,"resid":-344},{"expr":11085,"resid":-505},{"expr":11171,"resid":-665},{"expr":11137,"resid":-941},{"expr":11051,"resid":-1078},{"expr":11258,"resid":-1032},{"expr":11810,"resid":-734},{"expr":12206,"resid":-734},{"expr":12465,"resid":-665},{"expr":11913,"resid":-1124},{"expr":12034,"resid":-1009},{"expr":11775,"resid":-1537},{"expr":12379,"resid":-1353},{"expr":4758,"resid":-1078},{"expr":4327,"resid":-1445},{"expr":7585,"resid":-895},{"expr":8050,"resid":-963},{"expr":8448,"resid":-1009},{"expr":8551,"resid":-1078},{"expr":9448,"resid":-1078},{"expr":9844,"resid":-1009},{"expr":10051,"resid":-1009},{"expr":7878,"resid":-1537},{"expr":8706,"resid":-1652},{"expr":8275,"resid":-1766},{"expr":8792,"resid":-1766},{"expr":9189,"resid":-1766},{"expr":9138,"resid":-1950},{"expr":9362,"resid":-1950},{"expr":9586,"resid":-1789},{"expr":10051,"resid":-1652},{"expr":10310,"resid":-1698},{"expr":8120,"resid":-1950},{"expr":6948,"resid":-2042},{"expr":3758,"resid":-2042},{"expr":4068,"resid":-2271},{"expr":6861,"resid":-2478},{"expr":7896,"resid":-2409},{"expr":7947,"resid":-2409},{"expr":8637,"resid":-2110},{"expr":8551,"resid":-2409},{"expr":8724,"resid":-2500},{"expr":9103,"resid":-2110},{"expr":9206,"resid":-2340},{"expr":9327,"resid":-2110},{"expr":9482,"resid":-2225},{"expr":9793,"resid":-2110},{"expr":9586,"resid":-2982},{"expr":9844,"resid":-2753},{"expr":10051,"resid":-2523},{"expr":9965,"resid":-3143},{"expr":10792,"resid":-2753},{"expr":11344,"resid":-2110},{"expr":11378,"resid":-2271},{"expr":11516,"resid":-2868},{"expr":11206,"resid":-3418},{"expr":11741,"resid":-3189},{"expr":12120,"resid":-2868},{"expr":12654,"resid":-1950},{"expr":12861,"resid":-1904},{"expr":13930,"resid":-2569},{"expr":69,"resid":-2776},{"expr":345,"resid":-1353}]},
   "mark": {"type": "circle", "size": 34, "color": "black", "opacity": 1},
   "encoding": {
    "x": {"field": "expr", "type": "quantitative", "title": "RABGGTB expression", "scale": {"domain": [-621, 15380], "nice": false, "zero": false},
      "axis": {"values": [0, 2500, 5000, 7500, 10000, 12500, 15000], "format": "d", "labelExpr": "datum.value % 5000 == 0 ? datum.label : ''", "grid": true, "gridColor": {"condition": {"test": "datum.value % 5000 != 0", "value": "#F4F4F4"}, "value": "#E6E6E6"}, "tickOpacity": {"condition": {"test": "datum.value % 5000 != 0", "value": 0}, "value": 1}, "labelColor": "#1A1A1A", "tickColor": "#333333", "labelPadding": 5}},
    "y": {"field": "resid", "type": "quantitative", "title": "Residual average velocity", "scale": {"domain": [-3945, 9015], "nice": false, "zero": false},
      "axis": {"values": [-2500, 0, 2500, 5000, 7500], "format": "d", "labelExpr": "datum.value % 5000 == 0 ? datum.label : ''", "grid": true, "gridColor": {"condition": {"test": "datum.value % 5000 != 0", "value": "#F4F4F4"}, "value": "#E6E6E6"}, "tickOpacity": {"condition": {"test": "datum.value % 5000 != 0", "value": 0}, "value": 1}, "labelColor": "#1A1A1A", "tickColor": "#333333"}}
   }}], "spacing": 13, "bounds": "flush"},
  {"width": 309, "height": 188, "view": {"stroke": "#A8A8A8", "strokeWidth": 1},
   "data": {"values": [
    {"expr":38.4,"resid":963},{"expr":51.6,"resid":7685},{"expr":67.4,"resid":8098},{"expr":108.4,"resid":8419},{"expr":46.8,"resid":5689},{"expr":85.8,"resid":6653},{"expr":103.7,"resid":6492},{"expr":108.4,"resid":6492},{"expr":77.9,"resid":4771},{"expr":86.3,"resid":4152},{"expr":134.2,"resid":4726},{"expr":150,"resid":4703},{"expr":53.7,"resid":3166},{"expr":144.2,"resid":3670},{"expr":152.6,"resid":3258},{"expr":159.5,"resid":3510},{"expr":163.2,"resid":3624},{"expr":172.1,"resid":3166},{"expr":94.7,"resid":2890},{"expr":75.3,"resid":2202},{"expr":120,"resid":2638},{"expr":228.9,"resid":2638},{"expr":236.8,"resid":1973},{"expr":196.3,"resid":2294},{"expr":122.1,"resid":1950},{"expr":95.8,"resid":1514},{"expr":105.3,"resid":1629},{"expr":123.2,"resid":1376},{"expr":158.9,"resid":1606},{"expr":161.1,"resid":1560},{"expr":187.9,"resid":1147},{"expr":138.4,"resid":619},{"expr":140,"resid":688},{"expr":146.3,"resid":963},{"expr":116.3,"resid":413},{"expr":123.2,"resid":413},{"expr":60.5,"resid":551},{"expr":82.6,"resid":298},{"expr":90,"resid":413},{"expr":62.1,"resid":-344},{"expr":52.6,"resid":115},{"expr":97.9,"resid":0},{"expr":96.8,"resid":-803},{"expr":101.6,"resid":-46},{"expr":107.9,"resid":-184},{"expr":126.3,"resid":0},{"expr":128.4,"resid":-505},{"expr":110.5,"resid":-1147},{"expr":115.8,"resid":-1078},{"expr":118.4,"resid":-574},{"expr":121.1,"resid":-1376},{"expr":136.8,"resid":-505},{"expr":135.3,"resid":-275},{"expr":133.2,"resid":-734},{"expr":140.5,"resid":-1009},{"expr":130.5,"resid":-2019},{"expr":140,"resid":-1996},{"expr":143.2,"resid":-2386},{"expr":135.3,"resid":-3189},{"expr":143.2,"resid":-3189},{"expr":153.2,"resid":-344},{"expr":153.7,"resid":-941},{"expr":155.8,"resid":-1009},{"expr":155.8,"resid":-2432},{"expr":158.9,"resid":-1009},{"expr":164.2,"resid":-1468},{"expr":164.2,"resid":-1881},{"expr":166.3,"resid":-2019},{"expr":170,"resid":-2799},{"expr":172.1,"resid":-1652},{"expr":173.7,"resid":0},{"expr":173.7,"resid":-574},{"expr":175.3,"resid":-1078},{"expr":175.3,"resid":-2523},{"expr":178.9,"resid":-344},{"expr":180.5,"resid":-574},{"expr":183.2,"resid":-1652},{"expr":185.8,"resid":-2248},{"expr":187.9,"resid":-780},{"expr":184.2,"resid":-1766},{"expr":191.1,"resid":-1766},{"expr":198.9,"resid":23},{"expr":198.4,"resid":-1766},{"expr":205.3,"resid":-1652},{"expr":212.1,"resid":-1009},{"expr":216.8,"resid":-688},{"expr":220,"resid":-688},{"expr":221.1,"resid":-275},{"expr":222.6,"resid":115},{"expr":213.2,"resid":-3418},{"expr":227.4,"resid":-1468},{"expr":232.6,"resid":-161},{"expr":257.9,"resid":-1009},{"expr":260.5,"resid":-1652},{"expr":261.6,"resid":-2868},{"expr":264.2,"resid":711},{"expr":268.4,"resid":1101},{"expr":271.6,"resid":-1583},{"expr":285.3,"resid":-413},{"expr":287.4,"resid":-1491},{"expr":334.2,"resid":-620},{"expr":342.1,"resid":-92},{"expr":349,"resid":-688},{"expr":341.1,"resid":-2982},{"expr":360.5,"resid":-2065},{"expr":381.6,"resid":-2409},{"expr":442.6,"resid":-2776},{"expr":483.2,"resid":-2225},{"expr":66.8,"resid":-1904},{"expr":71,"resid":-2271},{"expr":70,"resid":-2455},{"expr":76.3,"resid":-2340},{"expr":77.9,"resid":-1537},{"expr":78.9,"resid":-2730},{"expr":84.2,"resid":-1950},{"expr":92.1,"resid":-1766},{"expr":52.6,"resid":-2868},{"expr":110.5,"resid":-2523},{"expr":114.7,"resid":-2455},{"expr":63.2,"resid":-2340},{"expr":75.3,"resid":-2225}]},
   "mark": {"type": "circle", "size": 34, "color": "black", "opacity": 1},
   "encoding": {
    "x": {"field": "expr", "type": "quantitative", "title": "LOC770532 expression", "scale": {"domain": [17.4, 504.2], "nice": false, "zero": false},
      "axis": {"values": [50, 100, 150, 200, 250, 300, 350, 400, 450, 500], "format": "d", "labelExpr": "datum.value % 100 == 0 ? datum.label : ''", "grid": true, "gridColor": {"condition": {"test": "datum.value % 100 != 0", "value": "#F4F4F4"}, "value": "#E6E6E6"}, "tickOpacity": {"condition": {"test": "datum.value % 100 != 0", "value": 0}, "value": 1}, "labelColor": "#1A1A1A", "tickColor": "#333333", "labelPadding": 5}},
    "y": {"field": "resid", "type": "quantitative", "title": "Residual average velocity", "scale": {"domain": [-3945, 9015], "nice": false, "zero": false},
      "axis": {"values": [-2500, 0, 2500, 5000, 7500], "format": "d", "labelExpr": "datum.value % 5000 == 0 ? datum.label : ''", "grid": true, "gridColor": {"condition": {"test": "datum.value % 5000 != 0", "value": "#F4F4F4"}, "value": "#E6E6E6"}, "tickOpacity": {"condition": {"test": "datum.value % 5000 != 0", "value": 0}, "value": 1}, "labelColor": "#1A1A1A", "tickColor": "#333333"}}
   }}
 ], "spacing": 22}
]}
]
}
